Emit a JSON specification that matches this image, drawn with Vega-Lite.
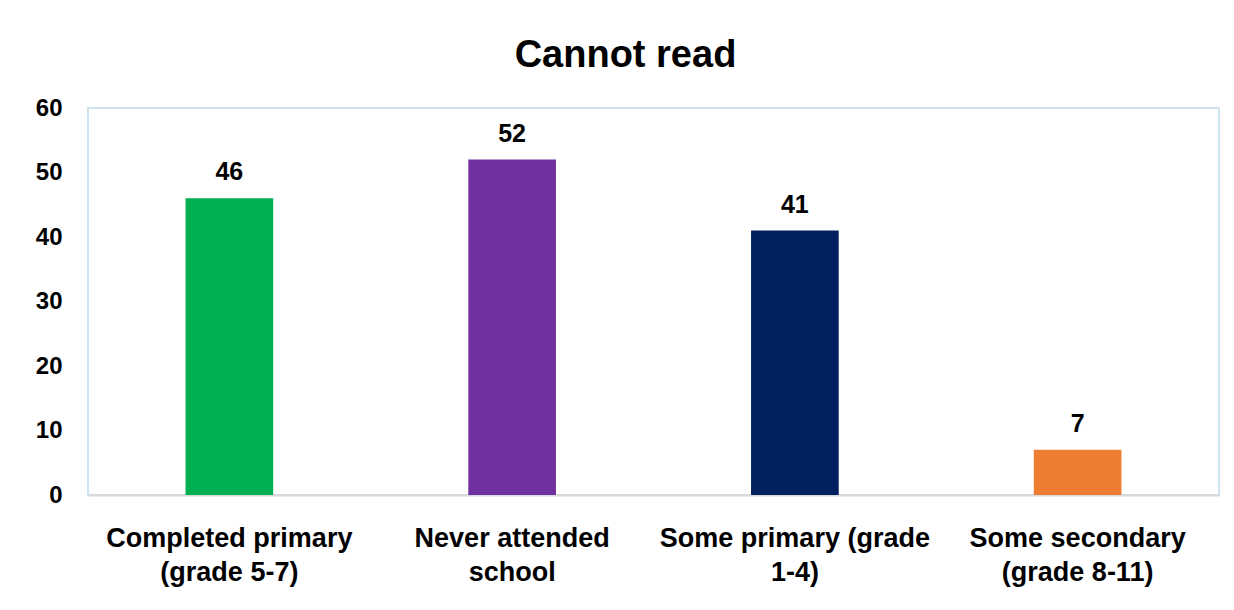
{
  "$schema": "https://vega.github.io/schema/vega-lite/v6.json",
  "width": 1131,
  "height": 387,
  "autosize": {"type": "none"},
  "padding": {"left": 88, "top": 108, "right": 15, "bottom": 115},
  "background": "white",
  "title": {
    "text": "Cannot read",
    "font": "Liberation Sans",
    "fontSize": 38,
    "fontWeight": "bold",
    "color": "#000000",
    "anchor": "middle",
    "dx": -28,
    "offset": 21
  },
  "data": {
    "values": [
      {"level": "Completed primary (grade 5-7)", "pct": 46},
      {"level": "Never attended school", "pct": 52},
      {"level": "Some primary (grade 1-4)", "pct": 41},
      {"level": "Some secondary (grade 8-11)", "pct": 7}
    ]
  },
  "config": {
    "view": {"stroke": "#cfe2f0", "strokeWidth": 2},
    "axis": {"grid": false, "ticks": false, "labelFont": "Liberation Sans", "labelFontWeight": "bold", "labelColor": "#000000"}
  },
  "encoding": {
    "x": {
      "field": "level",
      "type": "nominal",
      "sort": null,
      "scale": {"paddingInner": 0.69, "paddingOuter": 0.345},
      "axis": {
        "title": null,
        "labelAngle": 0,
        "labelFontSize": 27,
        "labelPadding": 30,
        "labelLineHeight": 34,
        "labelExpr": "datum.label == 'Completed primary (grade 5-7)' ? ['Completed primary', '(grade 5-7)'] : datum.label == 'Never attended school' ? ['Never attended', 'school'] : datum.label == 'Some primary (grade 1-4)' ? ['Some primary (grade', '1-4)'] : ['Some secondary', '(grade 8-11)']",
        "domainColor": "#d9d9d9",
        "domainWidth": 2,
        "labelLimit": 400
      }
    },
    "y": {
      "field": "pct",
      "type": "quantitative",
      "scale": {"domain": [0, 60]},
      "axis": {
        "title": null,
        "values": [0, 10, 20, 30, 40, 50, 60],
        "labelFontSize": 24,
        "labelPadding": 26,
        "domain": false
      }
    }
  },
  "layer": [
    {
      "mark": {"type": "bar"},
      "encoding": {
        "color": {
          "field": "level",
          "type": "nominal",
          "sort": null,
          "scale": {"range": ["#00B050", "#7030A0", "#002060", "#ED7D31"]},
          "legend": null
        }
      }
    },
    {
      "mark": {
        "type": "text",
        "baseline": "bottom",
        "dy": -13,
        "font": "Liberation Sans",
        "fontSize": 25,
        "fontWeight": "bold",
        "color": "#000000"
      },
      "encoding": {"text": {"field": "pct", "type": "quantitative"}}
    }
  ]
}
